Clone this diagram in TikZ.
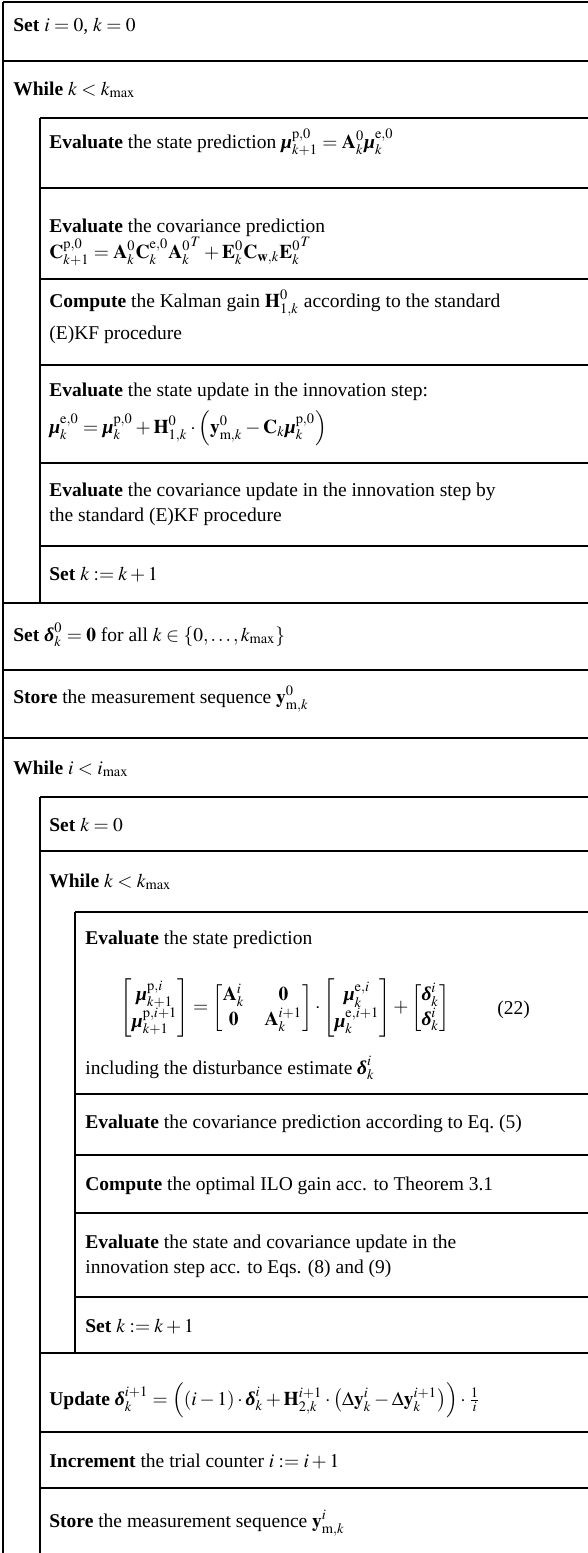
\documentclass[tikz,border=0pt]{standalone}
\usepackage{amsmath}
\usepackage{mathptmx}
\usepackage{fontspec}
\setmainfont{Liberation Serif}
\newcommand{\bmu}{\text{\bfseries\itshape μ}}
\newcommand{\bdelta}{\text{\bfseries\itshape δ}}
\begin{document}
\begin{tikzpicture}[x=0.5pt,y=-0.5pt,
  rule/.style={line width=1pt, draw=black},
  txt/.style={anchor=base west, inner sep=0pt, font=\fontsize{9.75}{11.7}\selectfont}]
\useasboundingbox (0,0) rectangle (588,1553);
\clip (0,0) rectangle (588,1553);
% ---- structure lines ----
\draw[rule] (3,2) -- (600,2);
\draw[rule] (3,2) -- (3,1570);
\draw[rule] (3,61) -- (600,61);
\draw[rule] (40,118) -- (600,118);
\draw[rule] (40,118) -- (40,603);
\draw[rule] (40,188) -- (600,188);
\draw[rule] (40,279) -- (600,279);
\draw[rule] (40,365) -- (600,365);
\draw[rule] (40,463) -- (600,463);
\draw[rule] (40,546) -- (600,546);
\draw[rule] (3,603) -- (600,603);
\draw[rule] (3,670) -- (600,670);
\draw[rule] (3,738) -- (600,738);
\draw[rule] (40,797) -- (600,797);
\draw[rule] (40,797) -- (40,1570);
\draw[rule] (40,851) -- (600,851);
\draw[rule] (75,912) -- (600,912);
\draw[rule] (75,912) -- (75,1353);
\draw[rule] (75,1094) -- (600,1094);
\draw[rule] (75,1155) -- (600,1155);
\draw[rule] (75,1213) -- (600,1213);
\draw[rule] (75,1297) -- (600,1297);
\draw[rule] (40,1353) -- (600,1353);
\draw[rule] (40,1432) -- (600,1432);
\draw[rule] (40,1488) -- (600,1488);
% ---- texts ----
\node[txt] (n1) at (13,31) {\textbf{Set} $i=0$, $k=0$};
\node[txt] (n2) at (13,95) {\textbf{While} $k<k_{\max}$};
\node[txt] (n3) at (49,148) {\textbf{Evaluate} the state prediction $\bmu^{\mathrm{p},0}_{k+1}=\mathbf{A}^0_k\bmu^{\mathrm{e},0}_k$};
\node[txt] (n4a) at (49,232) {\textbf{Evaluate} the covariance prediction};
\node[txt] (n4b) at (49,258) {$\mathbf{C}^{\mathrm{p},0}_{k+1}=\mathbf{A}^0_k\mathbf{C}^{\mathrm{e},0}_k{\mathbf{A}^0_k}^T+\mathbf{E}^0_k\mathbf{C}_{\mathbf{w},k}{\mathbf{E}^0_k}^T$};
\node[txt] (n5a) at (49,307) {\textbf{Compute} the Kalman gain $\mathbf{H}^0_{1,k}$ according to the standard};
\node[txt] (n5b) at (49,339) {(E)KF procedure};
\node[txt] (n6a) at (49,396) {\textbf{Evaluate} the state update in the innovation step:};
\node[txt] (n6b) at (49,433) {$\bmu^{\mathrm{e},0}_k=\bmu^{\mathrm{p},0}_k+\mathbf{H}^0_{1,k}\cdot\left(\mathbf{y}^0_{\mathrm{m},k}-\mathbf{C}_k\bmu^{\mathrm{p},0}_k\right)$};
\node[txt] (n7a) at (49,496) {\textbf{Evaluate} the covariance update in the innovation step by};
\node[txt] (n7b) at (49,521) {the standard (E)KF procedure};
\node[txt] (n8) at (49,580) {\textbf{Set} $k:=k+1$};
\node[txt] (n9) at (13,641) {\textbf{Set} $\bdelta^0_k=\mathbf{0}$ for all $k\in\{0,\ldots,k_{\max}\}$};
\node[txt] (n10) at (13,703) {\textbf{Store} the measurement sequence $\mathbf{y}^0_{\mathrm{m},k}$};
\node[txt] (n11) at (13,774) {\textbf{While} $i<i_{\max}$};
\node[txt] (n12) at (49,831) {\textbf{Set} $k=0$};
\node[txt] (n13) at (49,887) {\textbf{While} $k<k_{\max}$};
\node[txt] (n14a) at (85,944) {\textbf{Evaluate} the state prediction};
\node[txt,anchor=center] (n14b) at (285,1008) {$\displaystyle
  \begin{bmatrix}\bmu^{\mathrm{p},i}_{k+1}\\ \bmu^{\mathrm{p},i+1}_{k+1}\end{bmatrix}
  =\begin{bmatrix}\mathbf{A}^i_k & \mathbf{0}\\ \mathbf{0} & \mathbf{A}^{i+1}_k\end{bmatrix}
  \cdot\begin{bmatrix}\bmu^{\mathrm{e},i}_k\\ \bmu^{\mathrm{e},i+1}_k\end{bmatrix}
  +\begin{bmatrix}\bdelta^i_k\\ \bdelta^i_k\end{bmatrix}$};
\node[txt] (n14c) at (497,1014) {(22)};
\node[txt] (n14d) at (85,1074) {including the disturbance estimate $\bdelta^i_k$};
\node[txt] (n15) at (85,1128) {\textbf{Evaluate} the covariance prediction according to Eq.~(5)};
\node[txt] (n16) at (85,1190) {\textbf{Compute} the optimal ILO gain acc. to Theorem 3.1};
\node[txt] (n17a) at (85,1248) {\textbf{Evaluate} the state and covariance update in the};
\node[txt] (n17b) at (85,1273) {innovation step acc. to Eqs. (8) and (9)};
\node[txt] (n18) at (85,1332) {\textbf{Set} $k:=k+1$};
\node[txt] (n19) at (49,1405) {\textbf{Update} $\bdelta^{i+1}_k=\left((i-1)\cdot\bdelta^i_k+\mathbf{H}^{i+1}_{2,k}\cdot\left(\Delta\mathbf{y}^i_k-\Delta\mathbf{y}^{i+1}_k\right)\right)\cdot\frac{1}{i}$};
\node[txt] (n20) at (49,1467) {\textbf{Increment} the trial counter $i:=i+1$};
\node[txt] (n21) at (49,1527) {\textbf{Store} the measurement sequence $\mathbf{y}^i_{\mathrm{m},k}$};
\end{tikzpicture}
\end{document}
